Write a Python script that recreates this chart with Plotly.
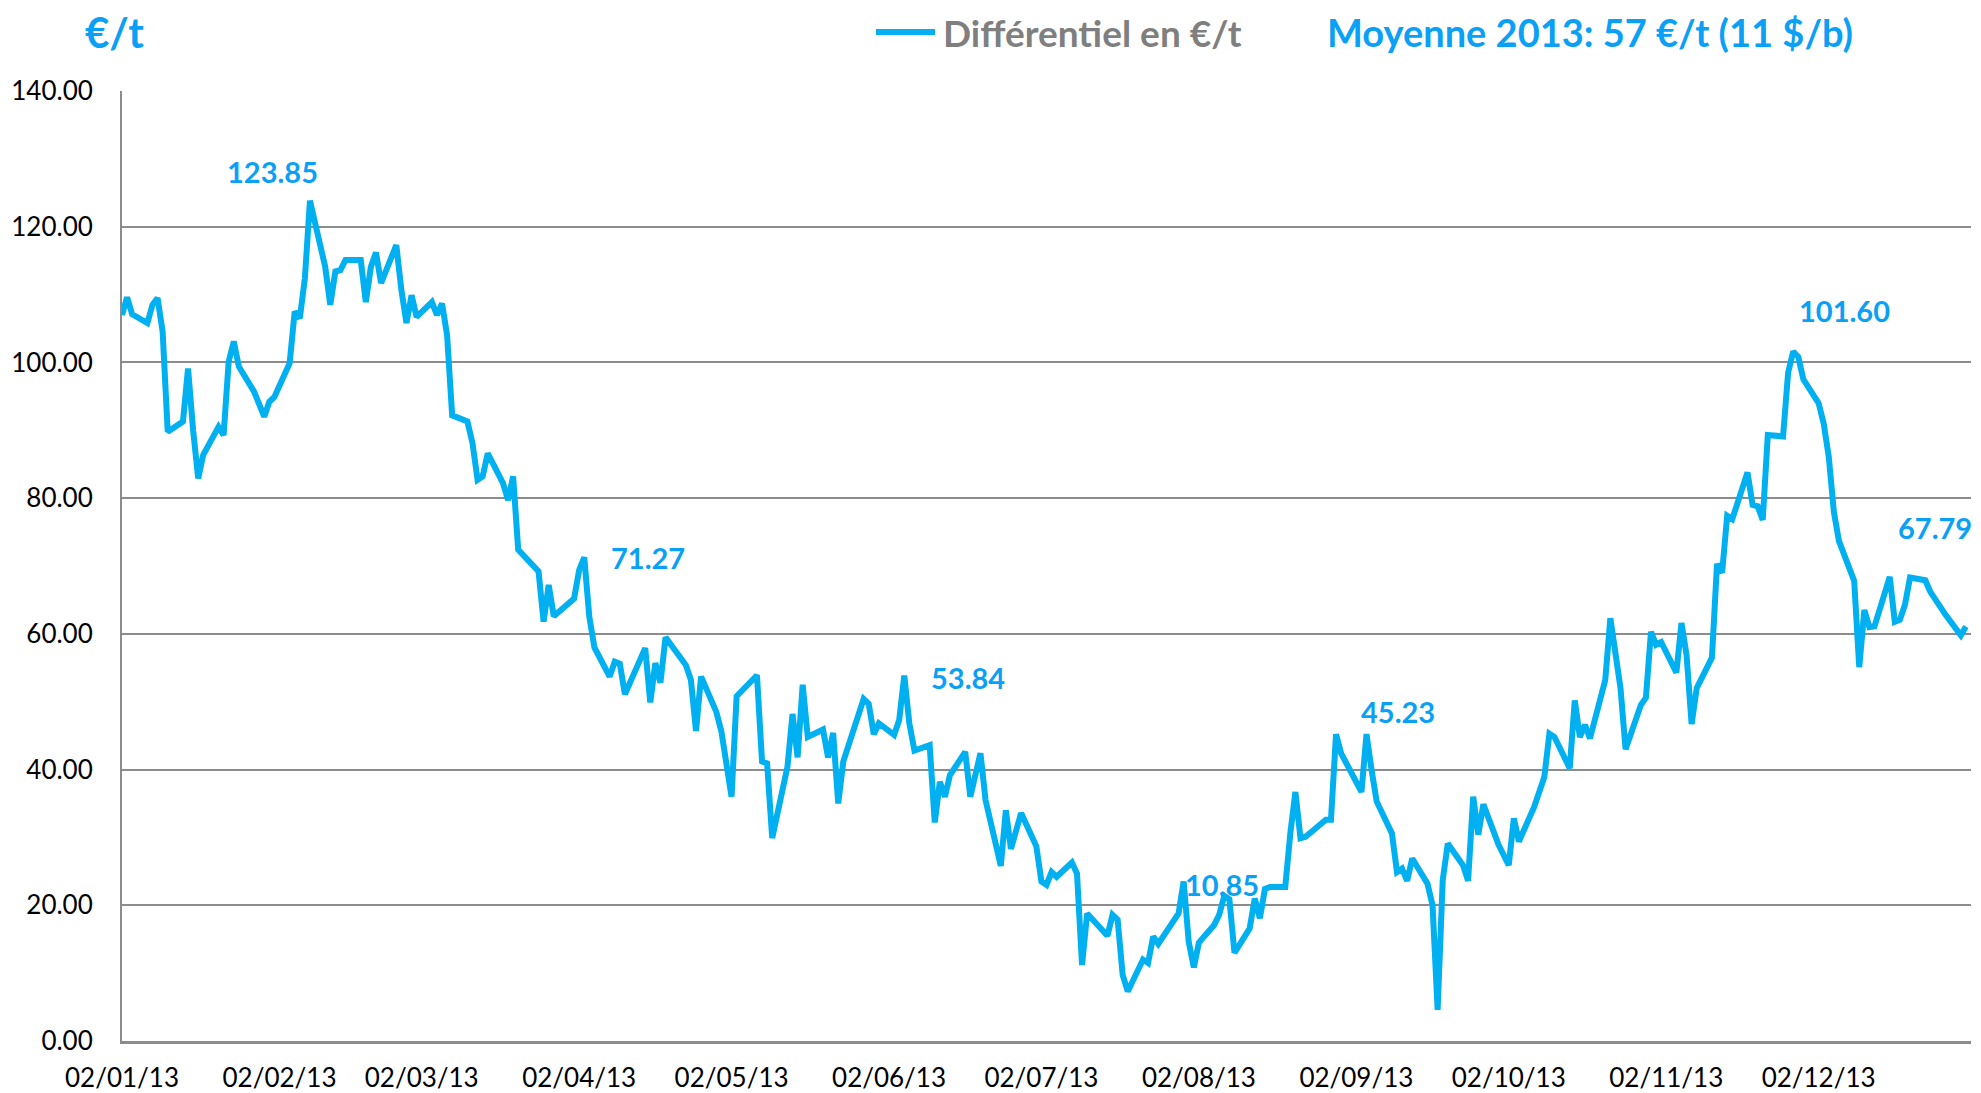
import plotly.graph_objects as go

# Daily differential (EUR/t), 2013
dates = [
    "2013-01-02", "2013-01-03", "2013-01-04", "2013-01-07", "2013-01-08", "2013-01-09",
    "2013-01-10", "2013-01-11", "2013-01-14", "2013-01-15", "2013-01-16", "2013-01-17",
    "2013-01-18", "2013-01-21", "2013-01-22", "2013-01-23", "2013-01-24", "2013-01-25",
    "2013-01-28", "2013-01-30", "2013-01-31", "2013-02-01", "2013-02-04", "2013-02-05",
    "2013-02-06", "2013-02-07", "2013-02-08", "2013-02-11", "2013-02-12", "2013-02-13",
    "2013-02-14", "2013-02-15", "2013-02-18", "2013-02-19", "2013-02-20", "2013-02-21",
    "2013-02-22", "2013-02-25", "2013-02-26", "2013-02-27", "2013-02-28", "2013-03-01",
    "2013-03-04", "2013-03-05", "2013-03-06", "2013-03-07", "2013-03-08", "2013-03-11",
    "2013-03-12", "2013-03-13", "2013-03-14", "2013-03-15", "2013-03-18", "2013-03-19",
    "2013-03-20", "2013-03-21", "2013-03-25", "2013-03-26", "2013-03-27", "2013-03-28",
    "2013-04-01", "2013-04-02", "2013-04-03", "2013-04-04", "2013-04-05", "2013-04-08",
    "2013-04-09", "2013-04-10", "2013-04-11", "2013-04-15", "2013-04-16", "2013-04-17",
    "2013-04-18", "2013-04-19", "2013-04-23", "2013-04-24", "2013-04-25", "2013-04-26",
    "2013-04-29", "2013-04-30", "2013-05-02", "2013-05-03", "2013-05-07", "2013-05-08",
    "2013-05-09", "2013-05-10", "2013-05-13", "2013-05-14", "2013-05-15", "2013-05-16",
    "2013-05-17", "2013-05-20", "2013-05-21", "2013-05-22", "2013-05-23", "2013-05-24",
    "2013-05-28", "2013-05-29", "2013-05-30", "2013-05-31", "2013-06-03", "2013-06-04",
    "2013-06-05", "2013-06-06", "2013-06-07", "2013-06-10", "2013-06-11", "2013-06-12",
    "2013-06-13", "2013-06-14", "2013-06-17", "2013-06-18", "2013-06-20", "2013-06-21",
    "2013-06-24", "2013-06-25", "2013-06-26", "2013-06-28", "2013-07-01", "2013-07-02",
    "2013-07-03", "2013-07-04", "2013-07-05", "2013-07-08", "2013-07-09", "2013-07-10",
    "2013-07-11", "2013-07-15", "2013-07-16", "2013-07-17", "2013-07-18", "2013-07-19",
    "2013-07-22", "2013-07-23", "2013-07-24", "2013-07-25", "2013-07-29", "2013-07-30",
    "2013-07-31", "2013-08-01", "2013-08-02", "2013-08-05", "2013-08-06", "2013-08-07",
    "2013-08-08", "2013-08-09", "2013-08-12", "2013-08-13", "2013-08-14", "2013-08-15",
    "2013-08-16", "2013-08-19", "2013-08-20", "2013-08-21", "2013-08-22", "2013-08-23",
    "2013-08-27", "2013-08-28", "2013-08-29", "2013-08-30", "2013-09-03", "2013-09-04",
    "2013-09-05", "2013-09-06", "2013-09-09", "2013-09-10", "2013-09-11", "2013-09-12",
    "2013-09-13", "2013-09-16", "2013-09-17", "2013-09-18", "2013-09-19", "2013-09-20",
    "2013-09-23", "2013-09-24", "2013-09-25", "2013-09-26", "2013-09-27", "2013-09-30",
    "2013-10-02", "2013-10-03", "2013-10-04", "2013-10-07", "2013-10-09", "2013-10-10",
    "2013-10-11", "2013-10-14", "2013-10-15", "2013-10-16", "2013-10-17", "2013-10-18",
    "2013-10-21", "2013-10-22", "2013-10-24", "2013-10-25", "2013-10-28", "2013-10-29",
    "2013-10-30", "2013-10-31", "2013-11-01", "2013-11-04", "2013-11-05", "2013-11-06",
    "2013-11-07", "2013-11-08", "2013-11-11", "2013-11-12", "2013-11-13", "2013-11-14",
    "2013-11-15", "2013-11-18", "2013-11-19", "2013-11-20", "2013-11-21", "2013-11-22",
    "2013-11-25", "2013-11-26", "2013-11-27", "2013-11-28", "2013-11-29", "2013-12-02",
    "2013-12-03", "2013-12-04", "2013-12-05", "2013-12-06", "2013-12-09", "2013-12-10",
    "2013-12-11", "2013-12-12", "2013-12-13", "2013-12-16", "2013-12-17", "2013-12-18",
    "2013-12-19", "2013-12-20", "2013-12-23", "2013-12-24", "2013-12-27", "2013-12-30",
    "2013-12-31",
]
values = [
    107.0, 109.6, 107.1, 105.8, 108.5, 109.5,
    104.5, 89.8, 91.3, 99.1, 90.0, 82.9,
    86.4, 90.5, 89.3, 100.1, 103.1, 99.4,
    95.7, 92.0, 94.2, 94.9, 99.9, 107.5,
    106.5, 112.4, 123.85, 114.1, 108.5, 113.4,
    113.6, 115.1, 115.1, 108.9, 114.1, 116.2,
    111.7, 117.3, 110.7, 105.8, 109.9, 106.7,
    108.9, 107.0, 108.7, 104.0, 92.2, 91.3,
    88.1, 82.7, 83.2, 86.6, 82.2, 79.7,
    83.2, 72.4, 69.2, 61.8, 67.2, 62.6,
    65.2, 69.4, 71.27, 62.5, 58.0, 53.7,
    55.9, 55.6, 51.1, 57.9, 49.9, 55.7,
    52.8, 59.5, 55.4, 53.2, 45.7, 53.7,
    48.5, 45.6, 36.0, 50.8, 53.9, 41.2,
    40.9, 29.9, 40.4, 48.2, 41.8, 52.5,
    44.8, 45.9, 41.8, 45.4, 35.0, 41.2,
    50.4, 49.7, 45.2, 46.8, 45.1, 47.3,
    53.84, 46.8, 42.8, 43.6, 32.2, 38.2,
    36.0, 39.2, 42.6, 36.0, 42.4, 35.5,
    25.8, 34.0, 28.3, 33.6, 28.7, 23.5,
    23.0, 24.9, 24.2, 26.3, 24.7, 11.2,
    18.8, 15.5, 18.6, 17.9, 9.7, 7.3,
    12.0, 11.5, 15.4, 14.3, 18.8, 23.5,
    14.6, 10.85, 14.5, 17.1, 18.6, 21.4,
    20.9, 13.0, 16.6, 21.0, 18.1, 22.4,
    22.7, 22.7, 30.6, 36.7, 29.9, 30.1,
    32.6, 32.6, 45.2, 42.4, 36.7, 45.23,
    39.9, 35.3, 30.6, 24.9, 25.4, 23.6,
    26.9, 23.2, 20.0, 4.6, 23.7, 29.1,
    25.9, 23.6, 36.0, 30.4, 34.9, 28.9,
    25.9, 32.8, 29.4, 34.5, 38.9, 45.3,
    44.8, 40.2, 50.2, 44.8, 46.6, 44.6,
    53.2, 62.3, 52.0, 43.0, 49.5, 50.6,
    60.3, 58.4, 58.8, 54.3, 61.6, 56.9,
    46.7, 52.0, 56.5, 70.3, 69.0, 77.4,
    76.9, 83.8, 79.0, 78.8, 76.8, 89.3,
    89.1, 98.5, 101.6, 100.8, 97.5, 94.0,
    91.0, 86.1, 78.0, 73.7, 67.8, 55.1,
    63.5, 61.0, 61.1, 68.4, 61.8, 62.1,
    64.3, 68.3, 67.9, 66.2, 62.8, 59.8,
    61.1,
]

# highlighted values written on the chart
label_values = [123.85, 71.27, 53.84, 10.85, 45.23, 101.60, 67.79]
label_dates = ["2013-01-31 14:00", "2013-04-15 14:00", "2013-06-17 12:00",
               "2013-08-06 12:00", "2013-09-10 07:00", "2013-12-07 00:00",
               "2013-12-25 00:00"]
label_y = [128.1, 71.2, 53.6, 23.1, 48.5, 107.7, 75.7]

tick_dates = ["2013-%02d-02" % m for m in range(1, 13)]

LINE = "#00B0F0"
LABEL = "#0AA0F5"
GRID = "#8C8C8C"
FONT = "Lato, 'Open Sans', sans-serif"
SERIES = "Différentiel en €/t"

fig = go.Figure()
fig.add_trace(go.Scatter(
    x=dates, y=values, mode="lines", name=SERIES,
    line=dict(color=LINE, width=6), showlegend=False,
))

annotations = [
    dict(x=d, y=y, text="<b>%.2f</b>" % v, showarrow=False, xref="x", yref="y",
         xanchor="center", yanchor="middle",
         font=dict(size=29, color=LABEL, family=FONT))
    for d, y, v in zip(label_dates, label_y, label_values)
]
annotations += [
    dict(x=-0.004, y=1.062, xref="paper", yref="paper", text="<b>€/t</b>",
         xanchor="center", yanchor="middle",
         showarrow=False, font=dict(size=42, color=LABEL, family=FONT)),
    dict(x=0.443, y=1.062, xref="paper", yref="paper", text="<b>%s</b>" % SERIES,
         xanchor="left", yanchor="middle",
         showarrow=False, font=dict(size=37, color="#7F7F7F", family=FONT)),
    dict(x=0.794, y=1.062, xref="paper", yref="paper",
         text="<b>Moyenne 2013: 57 €/t (11 $/b)</b>",
         xanchor="center", yanchor="middle",
         showarrow=False, font=dict(size=38, color=LABEL, family=FONT)),
]

fig.update_layout(
    width=1981, height=1093,
    margin=dict(l=122, r=10, t=91, b=52, autoexpand=False),
    paper_bgcolor="white", plot_bgcolor="white",
    font=dict(family=FONT, size=26, color="black"),
    showlegend=False,
    annotations=annotations,
    # legend key line drawn by hand so it matches the original length
    shapes=[dict(type="line", xref="paper", yref="paper",
                 x0=0.4078, x1=0.4397, y0=1.062, y1=1.062,
                 line=dict(color=LINE, width=6))],
    xaxis=dict(
        type="date", range=["2013-01-02", "2014-01-01"],
        tickvals=tick_dates, tickformat="%d/%m/%y",
        showgrid=False, showline=True, linecolor=GRID, linewidth=3,
        ticks="", ticklabelstandoff=12, zeroline=False, automargin=False,
    ),
    yaxis=dict(
        range=[0, 140], tickvals=list(range(0, 141, 20)), tickformat=".2f",
        showgrid=True, gridcolor=GRID, gridwidth=2,
        showline=True, linecolor=GRID, linewidth=2,
        ticks="", ticklabelstandoff=22, zeroline=False, automargin=False,
    ),
)

# drop the default body margin so the figure fills the window exactly
fig.write_html("out.html", config={"displayModeBar": False},
               post_script="document.body.style.margin='0';"
                           "document.body.style.overflow='hidden';")
